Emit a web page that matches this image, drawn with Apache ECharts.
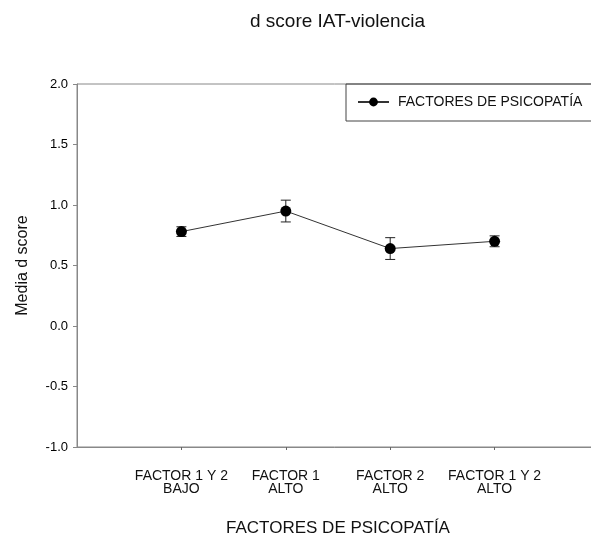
<!DOCTYPE html>
<html>
<head>
<meta charset="utf-8">
<script src="https://cdn.jsdelivr.net/npm/echarts@6/dist/echarts.min.js"></script>
<style>
  html, body { margin: 0; padding: 0; background: #fff; }
  #chart { width: 591px; height: 536px; }
</style>
</head>
<body>
<div id="chart"></div>
<script>
const categories = ['FACTOR 1 Y 2\nBAJO', 'FACTOR 1\nALTO', 'FACTOR 2\nALTO', 'FACTOR 1 Y 2\nALTO']
const means = [0.78, 0.95, 0.64, 0.70]
const errors = [0.04, 0.09, 0.09, 0.045]
const yTicks = [-1, -0.5, 0, 0.5, 1, 1.5, 2]

const font = 'Liberation Sans, Arial, sans-serif'
const points = means.map((m, i) => [i + 1, m])
const bars = means.map((m, i) => [i + 1, m - errors[i], m + errors[i]])

const chart = echarts.init(document.getElementById('chart'))
chart.setOption({
  backgroundColor: '#fff',
  animation: false,
  title: {
    text: 'd score IAT-violencia',
    left: 245,
    top: 7,
    textStyle: { fontFamily: font, fontSize: 19, fontWeight: 'normal', color: '#111' }
  },
  legend: {
    data: ['FACTORES DE PSICOPATÍA'],
    left: 346,
    top: 84,
    orient: 'horizontal',
    borderColor: '#444',
    borderWidth: 1,
    padding: [11, 40, 12, 11],
    itemWidth: 31,
    itemHeight: 11,
    textStyle: { fontFamily: font, fontSize: 14, color: '#111', padding: [0, 0, 0, 4] }
  },
  grid: {
    left: 77,
    top: 84,
    width: 522,
    bottom: 89,
    outerBoundsMode: 'none',
    containLabel: false,
    show: true,
    borderColor: '#888',
    borderWidth: 1
  },
  xAxis: {
    type: 'value',
    min: 0,
    max: 5,
    interval: 1,
    name: 'FACTORES DE PSICOPATÍA',
    nameLocation: 'middle',
    nameGap: 73,
    nameTextStyle: { fontFamily: font, fontSize: 17, color: '#111' },
    axisLine: { show: true, onZero: false, lineStyle: { color: '#888', width: 1 } },
    axisTick: { show: true, length: 3, customValues: [1, 2, 3, 4], lineStyle: { color: '#666' } },
    splitLine: { show: false },
    axisLabel: {
      customValues: [1, 2, 3, 4],
      margin: 23,
      fontFamily: font,
      fontSize: 14,
      lineHeight: 13,
      color: '#111',
      formatter: v => categories[v - 1] || ''
    }
  },
  yAxis: {
    type: 'value',
    min: -1,
    max: 2,
    interval: 0.5,
    name: 'Media d score',
    nameLocation: 'middle',
    nameGap: 46,
    nameTextStyle: { fontFamily: font, fontSize: 16, color: '#111' },
    axisLine: { show: true, lineStyle: { color: '#888', width: 1 } },
    axisTick: { show: true, length: 4, lineStyle: { color: '#888' } },
    splitLine: { show: false },
    axisLabel: {
      customValues: yTicks,
      margin: 9,
      fontFamily: font,
      fontSize: 13,
      color: '#000',
      formatter: v => v.toFixed(1)
    }
  },
  series: [
    {
      type: 'custom',
      name: 'err',
      data: bars,
      z: 2,
      renderItem: function (params, api) {
        const x = api.value(0)
        const lo = api.coord([x, api.value(1)])
        const hi = api.coord([x, api.value(2)])
        const style = { stroke: '#222', lineWidth: 1 }
        return {
          type: 'group',
          children: [
            { type: 'line', shape: { x1: lo[0], y1: lo[1], x2: hi[0], y2: hi[1] }, style },
            { type: 'line', shape: { x1: lo[0] - 5, y1: lo[1], x2: lo[0] + 5, y2: lo[1] }, style },
            { type: 'line', shape: { x1: hi[0] - 5, y1: hi[1], x2: hi[0] + 5, y2: hi[1] }, style }
          ]
        }
      }
    },
    {
      type: 'line',
      name: 'FACTORES DE PSICOPATÍA',
      data: points,
      z: 3,
      symbol: 'circle',
      symbolSize: 11,
      itemStyle: { color: '#000' },
      lineStyle: { color: '#333', width: 1 }
    }
  ]
})
</script>
</body>
</html>
